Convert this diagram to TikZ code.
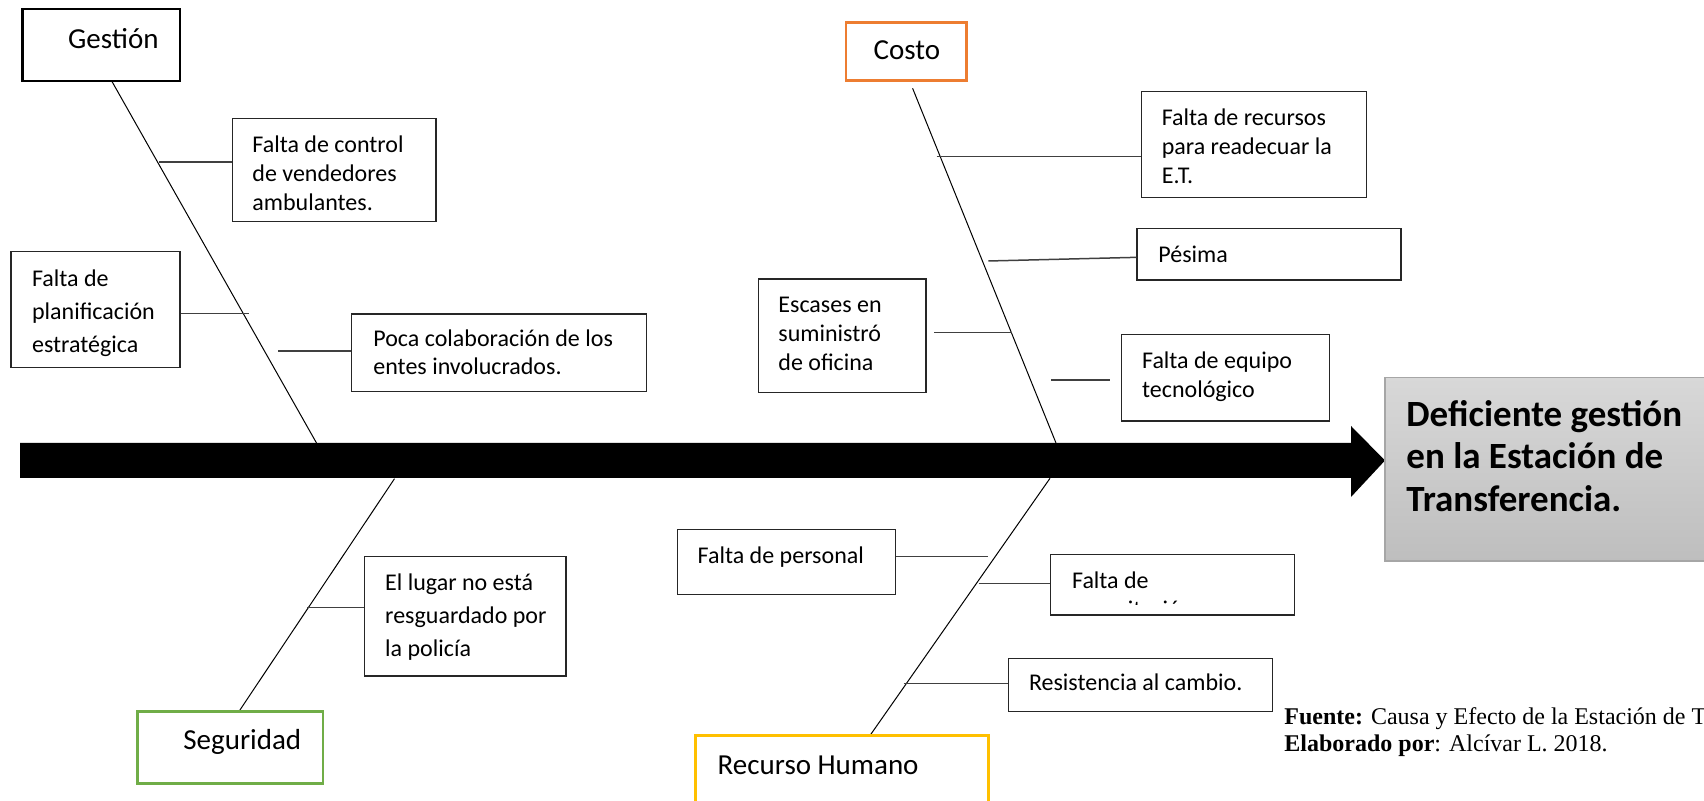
\documentclass[tikz,border=0pt]{standalone}
\usepackage{fontspec}
\setmainfont{Carlito}
\newfontfamily\tnrfont{Liberation Serif}
\usetikzlibrary{fit}
\definecolor{cOrange}{HTML}{ED7D31}
\definecolor{cGreen}{HTML}{70AD47}
\definecolor{cYellow}{HTML}{FFC000}
\definecolor{cBorder}{HTML}{262626}
\definecolor{cBranch}{HTML}{404040}
\definecolor{rTop}{HTML}{D8D8D8}
\definecolor{rBot}{HTML}{BEBEBE}
\definecolor{rEdge}{HTML}{A6A6A6}
\newcommand\stBody{\rule{0pt}{10pt}}
\newcommand\stHead{\rule{0pt}{12pt}}
\newcommand\stRes{\rule{0pt}{15pt}}
\begin{document}
\begin{tikzpicture}[x=0.5pt,y=-0.5pt,
  box/.style={draw=cBorder, line width=0.65pt, inner sep=0pt, fill=white},
  headbox/.style={draw=#1, line width=1.3pt, inner sep=0pt, fill=white},
  spine/.style={draw=black, line width=0.5pt},
  branch/.style={draw=cBranch, line width=0.75pt},
  bodytxt/.style={anchor=north west, inner sep=0pt, yshift=10pt, align=left, font=\fontsize{12pt}{14.5pt}\selectfont},
  headtxt/.style={anchor=north west, inner sep=0pt, yshift=12pt, align=left, font=\fontsize{14.5pt}{17pt}\selectfont},
  restxt/.style={anchor=north west, inner sep=0pt, yshift=15pt, align=left, font=\bfseries\fontsize{18.5pt}{21.25pt}\selectfont},
  srctxt/.style={anchor=north west, inner sep=0pt, yshift=10pt, align=left, font=\tnrfont\fontsize{12pt}{13.5pt}\selectfont}
]
\useasboundingbox (0,0) rectangle (1704,801);
\clip (0,0) rectangle (1704,801);

% main arrow
\fill[black] (20,443) -- (1351,443) -- (1351,426) -- (1385,460.5) -- (1351,497) -- (1351,478) -- (20,478) -- cycle;

% spine end points
\coordinate (gS) at (110,78);   \coordinate (gE) at (316.5,443);
\coordinate (cS) at (912.6,88.3); \coordinate (cE) at (1056,443);
\coordinate (sS) at (394.5,478.7); \coordinate (sE) at (238.8,711.7);
\coordinate (hS) at (1050,478.3); \coordinate (hE) at (870,735.5);
\draw[spine] (gS) -- (gE);
\draw[spine] (cS) -- (cE);
\draw[spine] (sS) -- (sE);
\draw[spine] (hS) -- (hE);

% heading boxes
\node[headbox=black, fit={(22.7,9) (180,81)}] (gest) {};
\node[headtxt] at (67.7,48.3) {\stHead Gestión};
\node[headbox=cOrange, fit={(846,22.3) (966.5,80.5)}] (cost) {};
\node[headtxt] at (873.3,59.3) {\stHead Costo};
\node[headbox=cGreen, fit={(137.5,711.7) (323,783.3)}] (segu) {};
\node[headtxt] at (183,749) {\stHead Seguridad};
\node[headbox=cYellow, fit={(695.5,735.5) (988.4,820)}] (rhum) {};
\node[headtxt] at (717.3,774) {\stHead Recurso Humano};

% cause boxes
\node[box, fit={(232.3,118.3) (436,221.7)}] (ctrl) {};
\node[bodytxt] at (252,152) {\stBody Falta de control\\de vendedores\\ambulantes.};
\node[box, fit={(11,251.7) (180,367.7)}] (plan) {};
\node[bodytxt, font=\fontsize{12pt}{16.5pt}\selectfont] at (31.7,286) {\stBody Falta de\\planificación\\estratégica};
\node[box, fit={(351.7,314) (646.7,391.7)}] (poca) {};
\node[bodytxt, font=\fontsize{12pt}{14pt}\selectfont] at (373,346.5) {\stBody Poca colaboración de los\\entes involucrados.};

\node[box, fit={(1141.7,91.7) (1366.7,197.7)}] (recu) {};
\node[bodytxt] at (1161.4,125) {\stBody Falta de recursos\\para readecuar la\\E.T.};
\node[box, fit={(1137,228.7) (1401,280)}] (pesi) {};
\node[bodytxt] at (1158,261.7) {\stBody Pésima};
\node[box, fit={(758.3,279) (925.9,392.7)}] (esca) {};
\node[bodytxt] at (778,311.7) {\stBody Escases en\\suministró\\de oficina};
\node[box, fit={(1121.5,334.7) (1329.5,421)}] (equi) {};
\node[bodytxt, font=\fontsize{12pt}{14.2pt}\selectfont] at (1141.7,368.3) {\stBody Falta de equipo\\tecnológico};

\node[box, fit={(364.3,556.7) (566,676)}] (luga) {};
\node[bodytxt, font=\fontsize{12pt}{16.5pt}\selectfont] at (384.8,590) {\stBody El lugar no está\\resguardado por\\la policía};

\node[box, fit={(677.2,529.3) (895.5,594.3)}] (pers) {};
\node[bodytxt] at (697.3,563.3) {\stBody Falta de personal};
\node[box, fit={(1050.4,554.3) (1294.6,615)}] (capa) {};
\begin{scope}
\clip (1052,556) rectangle (1293,604.3);
\node[bodytxt] (capatxt) at (1071.7,587.7) {\stBody Falta de\\capacitación};
\end{scope}
\node[box, fit={(1008.5,658.3) (1272.3,711.7)}] (resi) {};
\node[bodytxt] at (1028.6,690) {\stBody Resistencia al cambio.};

% effect box
\node[draw=rEdge, line width=0.6pt, inner sep=0pt, top color=rTop, bottom color=rBot, fit={(1385,377.3) (1720,561)}] (res) {};
\node[restxt] at (1406,426) {\stRes Deficiente gestión\\en la Estación de\\Transferencia.};

% branches
\coordinate (bCtrl) at (159,162);
\draw[branch] (bCtrl) -- (bCtrl -| ctrl.west);
\coordinate (bPlan) at (249.3,313.3);
\draw[branch] (bPlan -| plan.east) -- (bPlan);
\coordinate (bPoca) at (278.3,351);
\draw[branch] (bPoca) -- (bPoca -| poca.west);
\coordinate (bRecu) at (936.5,156.7);
\draw[branch] (bRecu) -- (bRecu -| recu.west);
\coordinate (bPesi) at (988.3,261);
\draw[branch] (bPesi) -- ([yshift=-1.5pt]pesi.west);
\coordinate (bEscaA) at (934.2,332.7); \coordinate (bEscaB) at (1012.2,332.7);
\draw[branch] (bEscaA) -- (bEscaB);
\coordinate (bEquiA) at (1051.2,380); \coordinate (bEquiB) at (1110,380);
\draw[branch] (bEquiA) -- (bEquiB);
\coordinate (bLuga) at (307,607.3);
\draw[branch] (bLuga) -- (bLuga -| luga.west);
\coordinate (bPers) at (988.4,556.7);
\draw[branch] (bPers -| pers.east) -- (bPers);
\coordinate (bCapa) at (978.6,583.3);
\draw[branch] (bCapa) -- (bCapa -| capa.west);
\coordinate (bResi) at (903.6,683.7);
\draw[branch] (bResi) -- (bResi -| resi.west);

% source note
\node[srctxt] (src) at (1284,724.5) {\stBody\textbf{Fuente:} Causa y Efecto de la Estación de Transferencia.\\\textbf{Elaborado por}: Alcívar L. 2018.};
\end{tikzpicture}
\end{document}
